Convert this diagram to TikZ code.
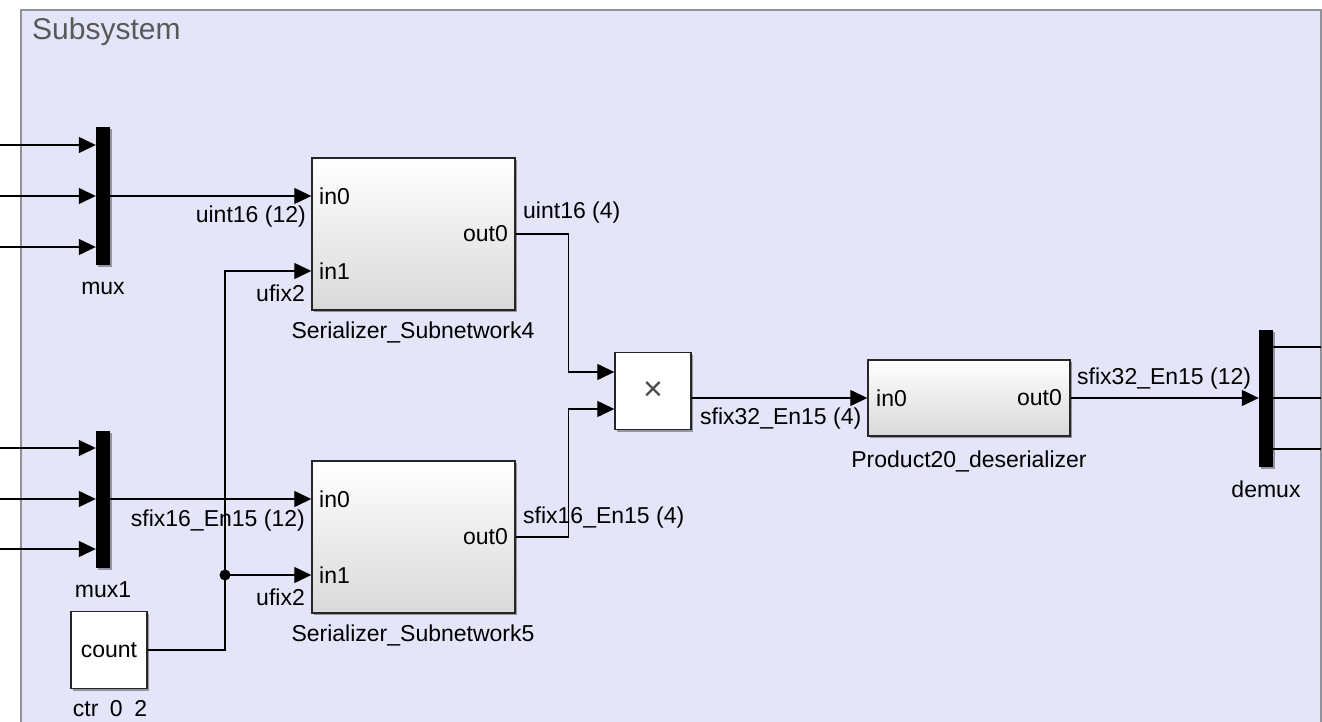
\documentclass[tikz,border=0pt]{standalone}
\usepackage{fontspec}
\setmainfont{Liberation Sans}
\usetikzlibrary{arrows.meta,shadows,positioning,calc}
\definecolor{sysfill}{RGB}{229,229,250}
\definecolor{sysedge}{RGB}{145,145,152}

\begin{document}
\begin{tikzpicture}[x=1pt,y=-1pt,
  txt/.style={inner sep=0pt,font=\fontsize{23}{27}\selectfont},
  blockshadow/.style={drop shadow={shadow xshift=2pt,shadow yshift=-2pt,opacity=0.35,fill=black}},
  subblock/.style={draw=black!85,line width=1.4pt,top color=white,bottom color=black!15,blockshadow,inner sep=0pt},
  plainblock/.style={draw=black!85,line width=1.4pt,fill=white,blockshadow,inner sep=0pt,minimum width=76,minimum height=77},
  barblock/.style={fill=black,blockshadow,inner sep=0pt,minimum width=14,minimum height=137},
  sig/.style={line width=1.3pt,-{Triangle[length=17pt,width=16pt]}},
  wire/.style={line width=1.3pt}]
\clip (0,0) rectangle (1322,722);
\fill[white] (0,0) rectangle (1322,722);
\draw[sysedge,fill=sysfill,line width=1.8pt] (21,10) rectangle (1321,760);
\node[txt,font=\fontsize{30}{34}\selectfont,text=black!65,anchor=west] (title) at (32,32) {Subsystem};

% blocks
\node[barblock] (mux) at (103,196) {};
\node[barblock] (mux1) at (103,499) {};
\node[barblock] (demux) at (1266,398) {};
\node[subblock,minimum width=203,minimum height=152] (sub4) at (413.5,234) {};
\node[subblock,minimum width=203,minimum height=152] (sub5) at (413.5,537) {};
\node[subblock,minimum width=202,minimum height=76] (prod) at (969,398) {};
\node[plainblock] (mult) at (653,391) {};
\node[txt,font=\fontsize{34}{34}\selectfont,text=black!70] (multsym) at (mult) {×};
\node[plainblock] (count) at (109,650) {};
\node[txt] (countlbl) at (count) {count};

% block names
\node[txt] (muxname) at (103,288) {mux};
\node[txt] (mux1name) at (103,590) {mux1};
\node[txt] (demuxname) at (1266,489) {demux};
\node[txt] (ctrname) at (110,709) {ctr\hspace{0.5em}0\hspace{0.5em}2};
\node[txt] (sub4name) at (413,332) {Serializer\_Subnetwork4};
\node[txt] (sub5name) at (413,635) {Serializer\_Subnetwork5};
\node[txt] (prodname) at (969,461) {Product20\_deserializer};

% port names
\node[txt,anchor=west] (s4i0) at (319,196) {in0};
\node[txt,anchor=west] (s4i1) at (319,271) {in1};
\node[txt,anchor=east] (s4o0) at (508,234) {out0};
\node[txt,anchor=west] (s5i0) at (319,499) {in0};
\node[txt,anchor=west] (s5i1) at (319,575) {in1};
\node[txt,anchor=east] (s5o0) at (508,537) {out0};
\node[txt,anchor=west] (pi0) at (876,398) {in0};
\node[txt,anchor=east] (po0) at (1062,398) {out0};

% signal names
\node[txt,anchor=east] (t1) at (306,217) {uint16 (12)};
\node[txt,anchor=east] (t2) at (305,293) {ufix2};
\node[txt,anchor=west] (t3) at (523,213) {uint16 (4)};
\node[txt,anchor=east] (t4) at (305,521) {sfix16\_En15 (12)};
\node[txt,anchor=east] (t5) at (305,597) {ufix2};
\node[txt,anchor=west] (t6) at (523,518) {sfix16\_En15 (4)};
\node[txt,anchor=west] (t7) at (700,419) {sfix32\_En15 (4)};
\node[txt,anchor=west] (t8) at (1077,379) {sfix32\_En15 (12)};

% inputs and outputs at the border
\foreach \y in {145,196,247} {
  \coordinate (src) at (0,\y);
  \draw[sig] (src) -- (src -| mux.west);
}
\foreach \y in {448,499,549} {
  \coordinate (src) at (0,\y);
  \draw[sig] (src) -- (src -| mux1.west);
}
\foreach \y in {347,398,449} {
  \coordinate (dst) at (1321,\y);
  \draw[wire] (dst -| demux.east) -- (dst);
}

% connections
\coordinate (jn) at (225,575);
\coordinate (mi1) at ($(mult.west)+(0,-19)$);
\coordinate (mi2) at ($(mult.west)+(0,18)$);
\draw[sig] (mux.east) -- (mux.east -| sub4.west);
\draw[sig] (mux1.east) -- (mux1.east -| sub5.west);
\draw[sig] (count.east) -| (jn) |- (s4i1.west -| sub4.west);
\draw[sig] (jn) -- (jn -| sub5.west);
\fill (jn) circle (5.5);
\draw[sig] (sub4.east) -- ++(53,0) |- (mi1);
\draw[sig] (sub5.east) -- ++(53,0) |- (mi2);
\draw[sig] (mult.east |- prod.west) -- (prod.west);
\draw[sig] (prod.east) -- (demux.west);
\end{tikzpicture}
\end{document}
